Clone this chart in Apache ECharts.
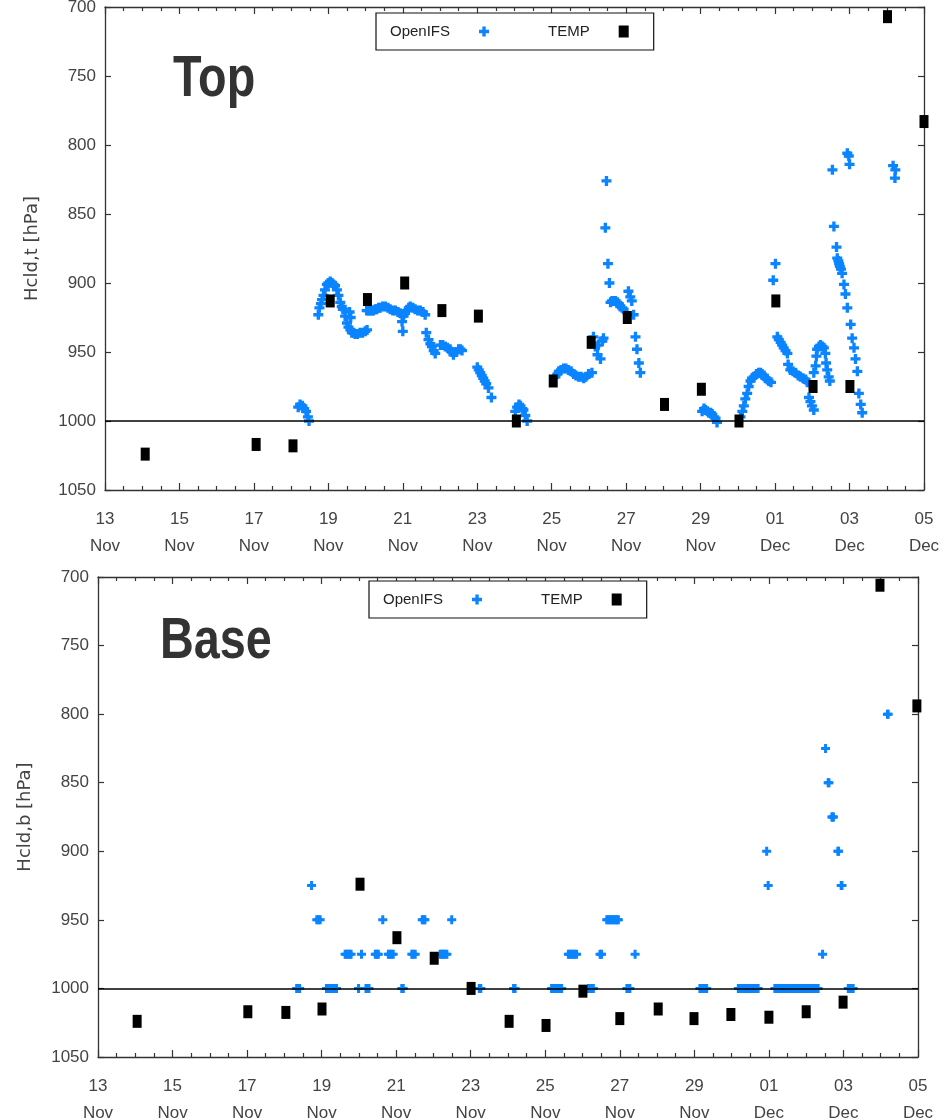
<!DOCTYPE html>
<html>
<head>
<meta charset="utf-8">
<script src="https://cdn.jsdelivr.net/npm/echarts@6.0.0/dist/echarts.min.js"></script>
<style>
html,body{margin:0;padding:0;background:#fff;}
#chart{width:947px;height:1120px;}
</style>
</head>
<body>
<div id="chart"></div>
<script>
// ---------------- DATA (x = days since 13 Nov 00 UTC, y = hPa) ----------------
const START_UTC = Date.UTC(2017, 10, 13);
const MONTHS = ['Jan','Feb','Mar','Apr','May','Jun','Jul','Aug','Sep','Oct','Nov','Dec'];
const X_TICKS = [0, 2, 4, 6, 8, 10, 12, 14, 16, 18, 20, 22];   // 13 Nov ... 05 Dec
const Y_TICKS = [700, 750, 800, 850, 900, 950, 1000, 1050];

// Top panel: OpenIFS cloud top pressure
const ifsTop = [
  [5.19,990],[5.24,988],[5.30,989],[5.35,991],[5.40,993],[5.45,997],[5.48,1000],
  [5.73,923],[5.76,918],[5.80,915],[5.83,912],[5.87,909],[5.91,905],[5.96,901],[6.00,900],[6.05,899],[6.10,900],
  [6.14,901],[6.18,902],[6.23,905],[6.27,909],[6.32,914],[6.36,917],[6.39,919],[6.45,924],[6.50,929],[6.54,932],
  [6.57,921],[6.59,934],[6.60,925],[6.63,936],[6.68,936],[6.72,937],[6.78,937],[6.85,936],[6.92,936],[6.99,935],[7.04,934],
  [7.03,920],[7.08,920],[7.12,920],[7.17,920],[7.21,920],[7.26,919],[7.30,919],[7.35,918],[7.39,918],[7.46,917],
  [7.53,917],[7.60,918],[7.66,919],[7.73,920],[7.80,920],[7.87,921],[7.93,922],[7.98,928],[8.00,935],[8.02,924],
  [8.06,922],[8.11,920],[8.16,918],[8.20,917],[8.27,918],[8.33,919],[8.40,920],[8.47,920],[8.54,921],[8.60,923],
  [8.63,936],[8.69,941],[8.74,944],[8.78,946],[8.83,949],[8.87,951],[9.01,945],[9.07,945],[9.14,946],[9.20,947],
  [9.27,948],[9.32,950],[9.36,952],[9.43,950],[9.50,948],[9.55,948],[9.59,949],
  [10.00,961],[10.04,963],[10.08,965],[10.12,967],[10.16,969],[10.20,971],[10.24,973],[10.30,976],[10.38,983],
  [11.02,993],[11.07,990],[11.12,988],[11.16,989],[11.21,991],[11.24,992],[11.29,996],[11.34,1000],
  [12.10,968],[12.15,966],[12.19,964],[12.25,963],[12.32,962],[12.38,962],[12.45,963],[12.52,964],[12.59,966],
  [12.65,967],[12.72,968],[12.79,968],[12.86,969],[12.92,968],[12.99,966],[13.08,965],
  [13.12,939],[13.17,946],[13.23,952],[13.25,945],[13.31,955],[13.36,942],[13.39,940],
  [13.44,860],[13.47,826],[13.51,886],[13.55,900],[13.58,914],[13.62,913],[13.66,913],[13.71,913],[13.76,914],
  [13.80,915],[13.84,917],[13.89,918],[13.93,919],
  [14.06,906],[14.11,910],[14.15,913],[14.20,923],[14.25,939],[14.29,948],[14.34,958],[14.38,965],
  [16.04,993],[16.09,991],[16.13,992],[16.18,993],[16.22,994],[16.27,994],[16.31,995],[16.36,997],[16.40,998],[16.44,1001],
  [17.07,997],[17.12,993],[17.16,989],[17.20,984],[17.25,980],[17.29,975],[17.34,971],[17.38,969],[17.43,968],
  [17.50,966],[17.56,965],[17.61,965],[17.65,966],[17.70,967],[17.74,969],[17.79,970],[17.83,971],[17.89,972],
  [17.95,898],[18.01,886],
  [18.06,939],[18.10,941],[18.15,943],[18.19,945],[18.23,947],[18.28,949],[18.33,951],[18.35,959],[18.41,963],
  [18.48,964],[18.55,965],[18.62,967],[18.68,968],[18.75,969],[18.82,970],[18.88,972],[18.95,974],
  [18.91,983],[18.95,986],[18.99,989],[19.04,992],
  [19.04,965],[19.09,960],[19.11,953],[19.13,948],[19.18,946],[19.22,945],[19.27,946],[19.31,947],[19.35,951],
  [19.37,958],[19.40,963],[19.44,968],[19.47,971],
  [19.54,818],[19.58,859],[19.65,874],[19.67,882],[19.70,884],[19.72,886],[19.74,888],[19.77,890],[19.80,893],
  [19.85,901],[19.89,908],[19.94,918],[20.03,930],[20.07,940],[20.12,947],[20.16,955],[20.21,964],[20.25,980],
  [20.30,988],[20.34,994],
  [19.94,806],[19.98,808],[20.00,814],
  [21.17,815],[21.23,818],[21.22,824]
];

// Top panel: TEMP soundings
const tempTopDay = [1.08, 4.06, 5.05, 6.05, 7.05, 8.05, 9.05, 10.03, 11.05, 12.04, 13.06, 14.03, 15.03, 16.02, 17.03, 18.02, 19.02, 20.01, 21.02, 22.00];
const tempTopHpa = [1024, 1017, 1018, 913, 912, 900, 920, 924, 1000, 971, 943, 925, 988, 977, 1000, 913, 975, 975, 707, 783];

// Base panel: OpenIFS cloud base (model levels) -> hours (as days) at which each level occurs
const ifsBaseLevels = [1000, 975, 950, 925, 900, 875, 850, 825, 800];
const ifsBaseDays = [
  [5.33,5.37,5.41, 6.13,6.17,6.21,6.25,6.29,6.33,6.37,6.40, 6.99, 7.19,7.23,7.27, 8.15,8.19, 10.23,10.27, 11.15,11.19,
   12.17,12.21,12.25,12.29,12.33,12.37,12.41,12.44, 13.16,13.20,13.24,13.29, 14.19,14.23,14.27,
   16.15,16.19,16.24,16.28,16.33,
   17.18,17.22,17.26,17.30,17.34,17.39,17.43,17.47,17.51,17.55,17.59,17.63,17.67,17.71,
   18.16,18.20,18.24,18.28,18.33,18.37,18.41,18.45,18.49,18.53,18.58,18.62,18.66,18.70,18.74,18.78,18.83,18.87,
   18.91,18.95,18.99,19.03,19.08,19.12,19.16,19.20,19.24,19.28,19.32,
   20.13,20.17,20.21,20.26],
  [6.63,6.67,6.71,6.75,6.79, 7.07, 7.44,7.48,7.52, 7.79,7.83,7.87,7.92, 8.42,8.46,8.51, 9.18,9.22,9.27,9.31,9.36,
   12.62,12.66,12.70,12.75,12.79,12.84, 13.47,13.51, 14.41, 19.44],
  [5.87,5.91,5.96, 7.64, 8.70,8.74,8.77, 9.49, 13.65,13.69,13.73,13.77,13.81,13.85,13.89,13.93,13.96],
  [5.73, 17.98, 19.94,19.96],
  [17.94, 19.85,19.87],
  [19.69,19.71,19.73],
  [19.59,19.61],
  [19.52],
  [21.18,21.20]
];

// Base panel: TEMP soundings
const tempBaseDay = [1.05, 4.02, 5.04, 6.01, 7.03, 8.02, 9.02, 10.01, 11.03, 12.02, 13.01, 14.00, 15.03, 15.99, 16.98, 18.00, 19.00, 19.99, 20.98, 21.97];
const tempBaseHpa = [1024, 1017, 1017.5, 1015, 924, 963, 978, 1000, 1024, 1027, 1002, 1022, 1015, 1022, 1019, 1021, 1017, 1010, 706, 794];

// ---------------- STYLE ----------------
const LABEL_FONT = "'Liberation Sans',Arial,sans-serif";
const BLUE = '#0a84ff';
const AXIS_COL = '#333';
const PLUS = 'path://M3,0h3v3h3v3h-3v3h-3v-3h-3v-3h3z';

function dayLabel(v) {
  const d = new Date(START_UTC + v * 86400000);
  return String(d.getUTCDate()).padStart(2, '0') + '\n' + MONTHS[d.getUTCMonth()];
}
function zip(a, b) { return a.map((v, i) => [v, b[i]]); }
const ifsBase = [];
ifsBaseLevels.forEach((lev, i) => ifsBaseDays[i].forEach(d => ifsBase.push([d, lev])));

function xAxes(grid) {
  const common = {
    gridIndex: grid, type: 'value', min: X_TICKS[0], max: X_TICKS[X_TICKS.length - 1], interval: 2,
    splitLine: { show: false },
    axisLine: { show: true, onZero: false, lineStyle: { color: AXIS_COL, width: 1.3 } },
    axisTick: { show: true, inside: true, length: 7, lineStyle: { color: AXIS_COL, width: 1.2 } },
    minorTick: { show: true, splitNumber: 4, length: 4, lineStyle: { color: AXIS_COL, width: 1.2 } },
    minorSplitLine: { show: false }
  };
  return [
    Object.assign({}, common, {
      position: 'bottom',
      axisLabel: { formatter: dayLabel, fontFamily: LABEL_FONT, fontSize: 17, color: '#444', lineHeight: 27, margin: 16 }
    }),
    Object.assign({}, common, { position: 'top', axisLabel: { show: false } })
  ];
}
function yAxes(grid, name) {
  const common = {
    gridIndex: grid, type: 'value', inverse: true, min: Y_TICKS[0], max: Y_TICKS[Y_TICKS.length - 1], interval: 50,
    splitLine: { show: false },
    axisLine: { show: true, onZero: false, lineStyle: { color: AXIS_COL, width: 1.3 } },
    axisTick: { show: true, inside: true, length: 6, lineStyle: { color: AXIS_COL, width: 1.2 } }
  };
  return [
    Object.assign({}, common, {
      position: 'left', name: name, nameLocation: 'middle', nameGap: 64,
      nameTextStyle: { fontFamily: 'DejaVu Sans', fontSize: 18, color: '#444' },
      axisLabel: { fontFamily: LABEL_FONT, fontSize: 17, color: '#444', margin: 9, formatter: v => String(v) }
    }),
    Object.assign({}, common, { position: 'right', axisLabel: { show: false } })
  ];
}
function legend(left, top) {
  return {
    left: left, top: top, orient: 'horizontal', align: 'right',
    itemWidth: 10, itemHeight: 12, itemGap: 59,
    padding: [11, 25, 11, 14],
    borderColor: '#111', borderWidth: 1.2, backgroundColor: '#fff',
    selectedMode: false,
    data: ['OpenIFS', 'TEMP'],
    formatter: n => '{t|' + n + '}',
    textStyle: {
      fontFamily: LABEL_FONT, fontSize: 15, color: '#222',
      rich: { t: { fontFamily: LABEL_FONT, fontSize: 15, color: '#222', padding: [0, 24, 0, 0] } }
    }
  };
}
function baseLine() {
  return {
    silent: true, symbol: 'none', animation: false,
    label: { show: false },
    lineStyle: { color: '#000', width: 1.5, type: 'solid' },
    data: [{ yAxis: 1000 }]
  };
}

const TITLE_FONT = "bold 57px 'Liberation Sans',Arial,sans-serif";
const option = {
  animation: false,
  backgroundColor: '#fff',
  grid: [
    { left: 105, right: 23, top: 7, height: 483, outerBoundsMode: 'none', containLabel: false },
    { left: 98, right: 29, top: 577, height: 480, outerBoundsMode: 'none', containLabel: false }
  ],
  xAxis: [].concat(xAxes(0), xAxes(1)),
  yAxis: [].concat(yAxes(0, 'Hcld,t [hPa]'), yAxes(1, 'Hcld,b [hPa]')),
  legend: [legend(376, 13), legend(369, 581)],
  graphic: [
    { type: 'text', x: 173, y: 80, scaleX: 0.82, style: { text: 'Top', font: TITLE_FONT, fill: '#333', align: 'left', verticalAlign: 'middle' } },
    { type: 'text', x: 160, y: 642, scaleX: 0.82, style: { text: 'Base', font: TITLE_FONT, fill: '#333', align: 'left', verticalAlign: 'middle' } }
  ],
  series: [
    { name: 'OpenIFS', type: 'scatter', xAxisIndex: 0, yAxisIndex: 0, data: ifsTop,
      symbol: PLUS, symbolSize: 10, itemStyle: { color: BLUE, opacity: 1 }, z: 2, markLine: baseLine() },
    { name: 'TEMP', type: 'scatter', xAxisIndex: 0, yAxisIndex: 0, data: zip(tempTopDay, tempTopHpa),
      symbol: 'rect', symbolSize: [9, 13], itemStyle: { color: '#000', opacity: 1 }, z: 3, clip: false },
    { name: 'OpenIFS', type: 'scatter', xAxisIndex: 2, yAxisIndex: 2, data: ifsBase,
      symbol: PLUS, symbolSize: 9, itemStyle: { color: BLUE, opacity: 1 }, z: 2, markLine: baseLine() },
    { name: 'TEMP', type: 'scatter', xAxisIndex: 2, yAxisIndex: 2, data: zip(tempBaseDay, tempBaseHpa),
      symbol: 'rect', symbolSize: [9, 13], itemStyle: { color: '#000', opacity: 1 }, z: 3, clip: false }
  ]
};

const chart = echarts.init(document.getElementById('chart'), null, { renderer: 'canvas' });
chart.setOption(option);
</script>
</body>
</html>
